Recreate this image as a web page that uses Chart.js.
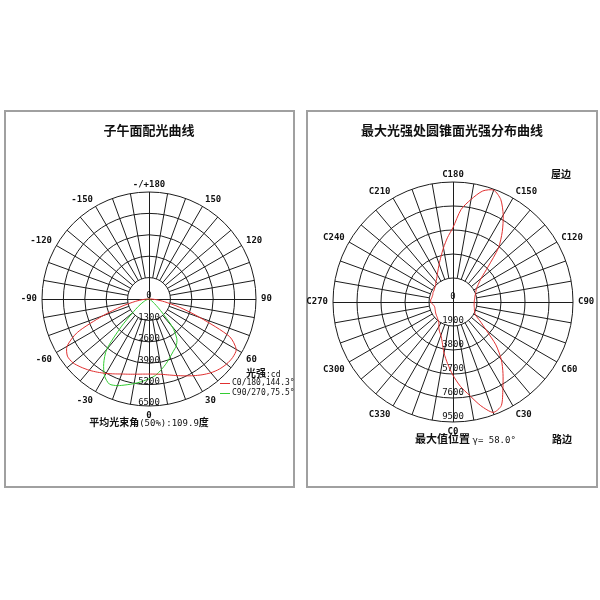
<!DOCTYPE html>
<html><head><meta charset="utf-8">
<script src="https://cdn.jsdelivr.net/npm/chart.js@4.4.1/dist/chart.umd.min.js"></script>
<style>
html,body{margin:0;padding:0;background:#fff;width:600px;height:600px;overflow:hidden;position:relative}
.panel{position:absolute;border:2px solid #a0a0a0;box-sizing:border-box}
canvas{position:absolute}
.t{position:absolute;white-space:nowrap;color:#111;line-height:1;font-family:"Noto Sans CJK SC","Noto Sans",sans-serif}
.c{transform:translate(-50%,-50%)}
.l{transform:translate(0,-50%)}
.b{font-weight:bold}
.m{font-family:"DejaVu Sans Mono",monospace}
.sw{position:absolute;height:1px;width:10px}
</style></head><body>
<div class="panel" style="left:4px;top:110px;width:291px;height:378px"></div>
<div class="panel" style="left:306px;top:110px;width:292px;height:378px"></div>
<canvas id="cL" width="300" height="400" style="left:0;top:100px"></canvas>
<canvas id="cR" width="300" height="400" style="left:300px;top:100px"></canvas>

<div class="t c b" style="left:149px;top:129px;font-size:13px">子午面配光曲线</div>
<div class="t c b" style="left:452px;top:129px;font-size:13px">最大光强处圆锥面光强分布曲线</div>

<div class="t l" style="left:246px;top:373px;font-size:10px"><span class="b">光强</span><span class="m" style="font-size:8px">:cd</span></div>
<div class="sw" style="left:220px;top:383px;background:#e03030"></div>
<div class="t l m" style="left:232px;top:383px;font-size:8px">C0/180,144.3°</div>
<div class="sw" style="left:220px;top:393px;background:#33cc33"></div>
<div class="t l m" style="left:232px;top:393px;font-size:8px">C90/270,75.5°</div>
<div class="t c" style="left:149px;top:422px;font-size:10px"><span class="b">平均光束角</span><span class="m" style="font-size:9px">(50%):109.9</span><span class="b">度</span></div>

<div class="t l b" style="left:551px;top:174px;font-size:10px">屋边</div>
<div class="t l b" style="left:552px;top:439px;font-size:10px">路边</div>
<div class="t l" style="left:415px;top:439px;font-size:11px"><span class="b">最大值位置</span> <span class="m" style="font-size:9px">γ= 58.0°</span></div>

<script>
// ---------- DATA ----------
// Left chart: meridian plane, gamma angles (deg), 0 = nadir (bottom)
const gammaAngles = [-180,-175,-170,-165,-160,-155,-150,-145,-140,-135,-130,-125,-120,-115,-110,-105,-100,-95,
  -90,-85,-80,-75,-70,-65,-60,-55,-50,-45,-40,-35,-30,-25,-20,-15,-10,-5,
  0,5,10,15,20,25,30,35,40,45,50,55,60,65,70,75,80,85,90,
  95,100,105,110,115,120,125,130,135,140,145,150,155,160,165,170,175];
const c0_180 = [0,0,0,0,0,0,0,0,0,0,0,0,0,0,0,0,0,0,
  100,350,850,1700,3000,4800,5750,6050,6030,5850,5650,5430,5220,5020,4850,4730,4640,4580,
  4560,4580,4650,4780,4950,5150,5380,5620,5850,6030,6150,6200,6120,5400,3300,1900,950,400,120,
  0,0,0,0,0,0,0,0,0,0,0,0,0,0,0,0,0];
const c90_270 = [0,0,0,0,0,0,0,0,0,0,0,0,0,0,0,0,0,0,
  0,20,50,100,180,300,500,800,1300,2400,4000,4800,5400,5700,5600,5400,5220,5030,
  4850,4650,4350,4050,3750,3500,3300,2950,2200,1000,450,200,100,50,20,0,0,0,0,
  0,0,0,0,0,0,0,0,0,0,0,0,0,0,0,0,0];
const leftRingValues = [0,1300,2600,3900,5200,6500];
const leftRingText = ['0','1300','2600','3900','5200','6500'];
const leftTickAngles = [0,30,60,90,120,150,180,-150,-120,-90,-60,-30];
const leftTickText = ['0','30','60','90','120','150','-/+180','-150','-120','-90','-60','-30'];

// Right chart: cone at gamma = 58 deg, C angles (deg), C0 = bottom
const cAngles = [0,5,10,15,20,25,30,35,40,45,50,55,60,65,70,75,80,85,90,95,100,105,110,115,
  120,125,130,135,140,145,150,155,160,165,170,175,180,185,190,195,200,205,210,215,220,225,230,235,
  240,245,250,255,260,265,270,275,280,285,290,295,300,305,310,315,320,325,330,335,340,345,350,355];
const cone58 = [5800,6700,7500,8500,9300,9050,7900,6900,5950,4800,3400,2600,2050,1900,1800,1750,1700,1680,1680,1700,1750,1800,1900,2000,
  2150,2450,2900,3900,5600,6800,7950,8950,9420,9100,8250,7350,5900,5100,4350,3700,3200,2800,2500,2250,2100,1950,1850,1800,
  1750,1750,1700,1700,1720,1780,1750,1650,1550,1500,1520,1550,1600,1650,1700,1750,1850,1950,2250,2550,2800,3300,4100,4900];
const rightRingValues = [0,1900,3800,5700,7600,9500];
const rightRingText = ['0','1900','3800','5700','7600','9500'];
const rightTickAngles = [0,30,60,90,120,150,180,210,240,270,300,330];
const rightTickText = ['C0','C30','C60','C90','C120','C150','C180','C210','C240','C270','C300','C330'];

// ---------- BUILD ----------
const N = 72; // 5-degree slots around the circle, index 0 at top, clockwise
function slotAngle(i, signed) { // angle value shown at slot i (0 at bottom, 90 at right)
  let a = 180 - i * 360 / N;
  if (signed) { if (a >= 180) a -= 360; if (a < -180) a += 360; }
  else { a = ((a % 360) + 360) % 360; }
  return a;
}
function slotIndex(a) { return ((Math.round((180 - a) * N / 360) % N) + N) % N; }
function ordered(angles, values, signed) {
  const m = new Map(angles.map((a, k) => [a, values[k]]));
  const out = [];
  for (let i = 0; i < N; i++) out.push(m.get(slotAngle(i, signed)) ?? 0);
  return out;
}
function slotLabels(signed) { const l = []; for (let i = 0; i < N; i++) l.push(String(slotAngle(i, signed))); return l; }

const GRID = '#1c1c1c';
function makeDecor(cfg) {
  return {
    id: 'polarDecor',
    beforeDatasetsDraw(chart) {
      const s = chart.scales.r, ctx = chart.ctx;
      const rIn = s.getDistanceFromCenterForValue(cfg.ringValues[1]);
      const rOut = s.drawingArea;
      ctx.save(); ctx.strokeStyle = GRID; ctx.lineWidth = 1;
      for (let i = 0; i < N; i += 2) {
        const full = i % (N / 4) === 0;
        const a = s.getPointPosition(i, full ? 0 : rIn), b = s.getPointPosition(i, rOut);
        const ox = (full && (i === 0 || i === N / 2)) ? 0.5 : 0;
        const oy = (full && !(i === 0 || i === N / 2)) ? 0.5 : 0;
        ctx.beginPath(); ctx.moveTo(a.x + ox, a.y + oy); ctx.lineTo(b.x + ox, b.y + oy); ctx.stroke();
        if (full) { // extend axis across the inner circle to the opposite side
          const c = s.getPointPosition((i + N / 2) % N, rIn);
          ctx.beginPath(); ctx.moveTo(a.x + ox, a.y + oy); ctx.lineTo(c.x + ox, c.y + oy); ctx.stroke();
        }
      }
      ctx.restore();
    },
    afterDraw(chart) {
      const s = chart.scales.r, ctx = chart.ctx;
      ctx.save(); ctx.fillStyle = '#111';
      ctx.font = cfg.angleFont;
      cfg.tickAngles.forEach((ang, k) => {
        const i = slotIndex(ang);
        const deg = i * 360 / N;
        const p = s.getPointPosition(i, s.drawingArea + cfg.pad);
        ctx.textAlign = (deg === 0 || deg === 180) ? 'center' : (deg < 180 ? 'left' : 'right');
        let y = p.y;
        if (deg === 90 || deg === 270) { ctx.textBaseline = 'middle'; }
        else if (deg < 90 || deg > 270) { ctx.textBaseline = 'alphabetic'; }
        else { ctx.textBaseline = 'alphabetic'; y += cfg.capH; }
        ctx.fillText(cfg.tickText[k], p.x, y);
      });
      ctx.font = cfg.ringFont; ctx.textAlign = 'center'; ctx.textBaseline = 'middle';
      cfg.ringValues.forEach((v, k) => {
        const d = s.getDistanceFromCenterForValue(v);
        const p = s.getPointPosition(N / 2, d);
        ctx.fillText(cfg.ringText[k], p.x, p.y - cfg.lift);
      });
      ctx.restore();
    }
  };
}

function makeChart(id, labels, datasets, max, step, pad, decor) {
  return new Chart(document.getElementById(id), {
    type: 'radar',
    data: { labels, datasets },
    options: {
      responsive: false, animation: false,
      layout: { padding: pad },
      plugins: { legend: { display: false }, tooltip: { enabled: false } },
      elements: { point: { radius: 0 }, line: { borderWidth: 1, tension: 0.25, fill: false } },
      scales: { r: {
        min: 0, max: max, startAngle: 0,
        ticks: { display: false, stepSize: step },
        grid: { circular: true, color: GRID, lineWidth: 1 },
        angleLines: { display: false },
        pointLabels: { display: false }
      } }
    },
    plugins: [makeDecor(decor)]
  });
}

makeChart('cL', slotLabels(true), [
  { label: 'C0/180', data: ordered(gammaAngles, c0_180, true), borderColor: '#e03030' },
  { label: 'C90/270', data: ordered(gammaAngles, c90_270, true), borderColor: '#33cc33' }
], 6500, 1300, { left: 42, top: 92, right: 44, bottom: 94 }, {
  ringValues: leftRingValues, ringText: leftRingText, tickAngles: leftTickAngles, tickText: leftTickText,
  angleFont: 'bold 9px "DejaVu Sans Mono"', ringFont: '9px "DejaVu Sans Mono"', pad: 5, capH: 7, lift: 3
});

makeChart('cR', slotLabels(false), [
  { label: 'γ=58', data: ordered(cAngles, cone58, false), borderColor: '#e03030' }
], 9500, 1900, { left: 33, top: 82, right: 27, bottom: 78 }, {
  ringValues: rightRingValues, ringText: rightRingText, tickAngles: rightTickAngles, tickText: rightTickText,
  angleFont: 'bold 9px "DejaVu Sans Mono"', ringFont: '9px "DejaVu Sans Mono"', pad: 5, capH: 7, lift: 5
});
</script>
</body></html>
